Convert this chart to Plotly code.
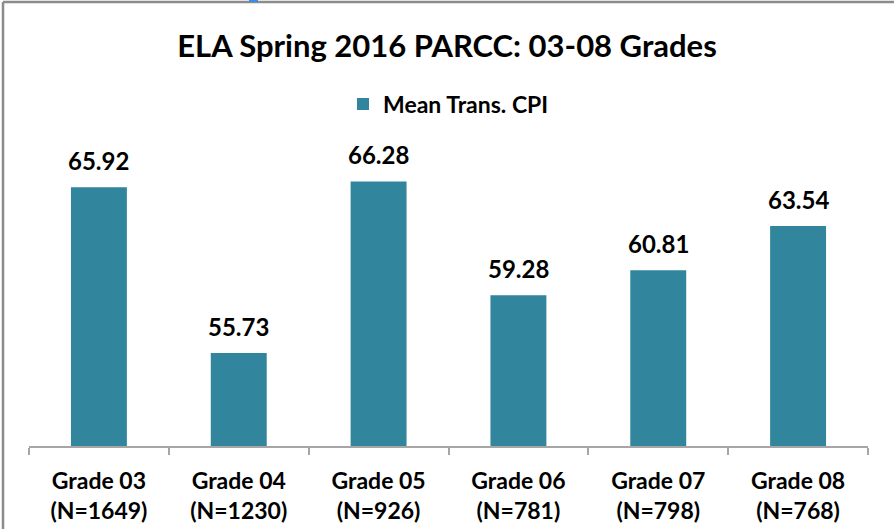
import plotly.graph_objects as go

categories = ["Grade 03", "Grade 04", "Grade 05", "Grade 06", "Grade 07", "Grade 08"]
n_counts = ["1649", "1230", "926", "781", "798", "768"]
values = [65.92, 55.73, 66.28, 59.28, 60.81, 63.54]
series_name = "Mean Trans. CPI"
title_text = "ELA Spring 2016 PARCC: 03-08 Grades"

FONT = "Lato, 'Open Sans', sans-serif"
BAR = "#31859C"

tick_text = [f"{c}<br>(N={n})" for c, n in zip(categories, n_counts)]

fig = go.Figure()
fig.add_trace(go.Bar(
    x=categories, y=values, name=series_name,
    marker=dict(color=BAR, line=dict(width=0)),
    width=0.4, showlegend=True,
))

for c, v in zip(categories, values):
    fig.add_annotation(x=c, y=v, text=f"{v:.2f}", showarrow=False,
                       yanchor="bottom", yshift=10,
                       font=dict(family=FONT, size=24, color="black", weight="bold"))

fig.update_layout(
    width=894, height=529,
    margin=dict(l=29, r=26, t=121, b=83, autoexpand=False),
    paper_bgcolor="white", plot_bgcolor="white",
    title=dict(text=title_text, x=0.5, xanchor="center", y=1 - 46 / 529, yanchor="middle",
               font=dict(family=FONT, size=31, color="black", weight="bold")),
    legend=dict(orientation="h", x=0.5, xanchor="center", y=(446 - 104) / 325, yanchor="middle",
                font=dict(family=FONT, size=23, color="black", weight="bold"),
                bgcolor="rgba(0,0,0,0)", itemwidth=30),
    showlegend=True,
    bargap=0.6,
)
fig.update_xaxes(
    type="category", tickmode="array", tickvals=categories, ticktext=tick_text,
    showline=True, linecolor="#A6A6A6", linewidth=1.5,
    ticks="outside", tickson="boundaries", ticklen=7, tickcolor="#A6A6A6", tickwidth=1.5,
    tickfont=dict(family=FONT, size=23, color="black", weight="bold"),
    ticklabelstandoff=14, automargin=False,
    showgrid=False, zeroline=False,
)
fig.update_yaxes(range=[50, 70], visible=False, showgrid=False, zeroline=False, automargin=False)

# outer chart border (the picture is a crop of a bordered chart)
fig.add_shape(type="line", xref="paper", yref="paper",
              x0=(3 - 29) / 839, x1=(900 - 29) / 839, y0=(446 - 2) / 325, y1=(446 - 2) / 325,
              line=dict(color="#8C8C8C", width=2.5))
fig.add_shape(type="line", xref="paper", yref="paper",
              x0=(3 - 29) / 839, x1=(3 - 29) / 839, y0=(446 - 2) / 325, y1=(446 - 540) / 325,
              line=dict(color="#8C8C8C", width=2.5))
fig.add_shape(type="line", xref="paper", yref="paper",
              x0=(249 - 29) / 839, x1=(258 - 29) / 839, y0=(446 - 0.5) / 325, y1=(446 - 0.5) / 325,
              line=dict(color="#3C8CE6", width=3))

fig.write_html("out.html", config={"displayModeBar": False},
               post_script="document.body.style.margin='0';document.body.style.overflow='hidden';")
